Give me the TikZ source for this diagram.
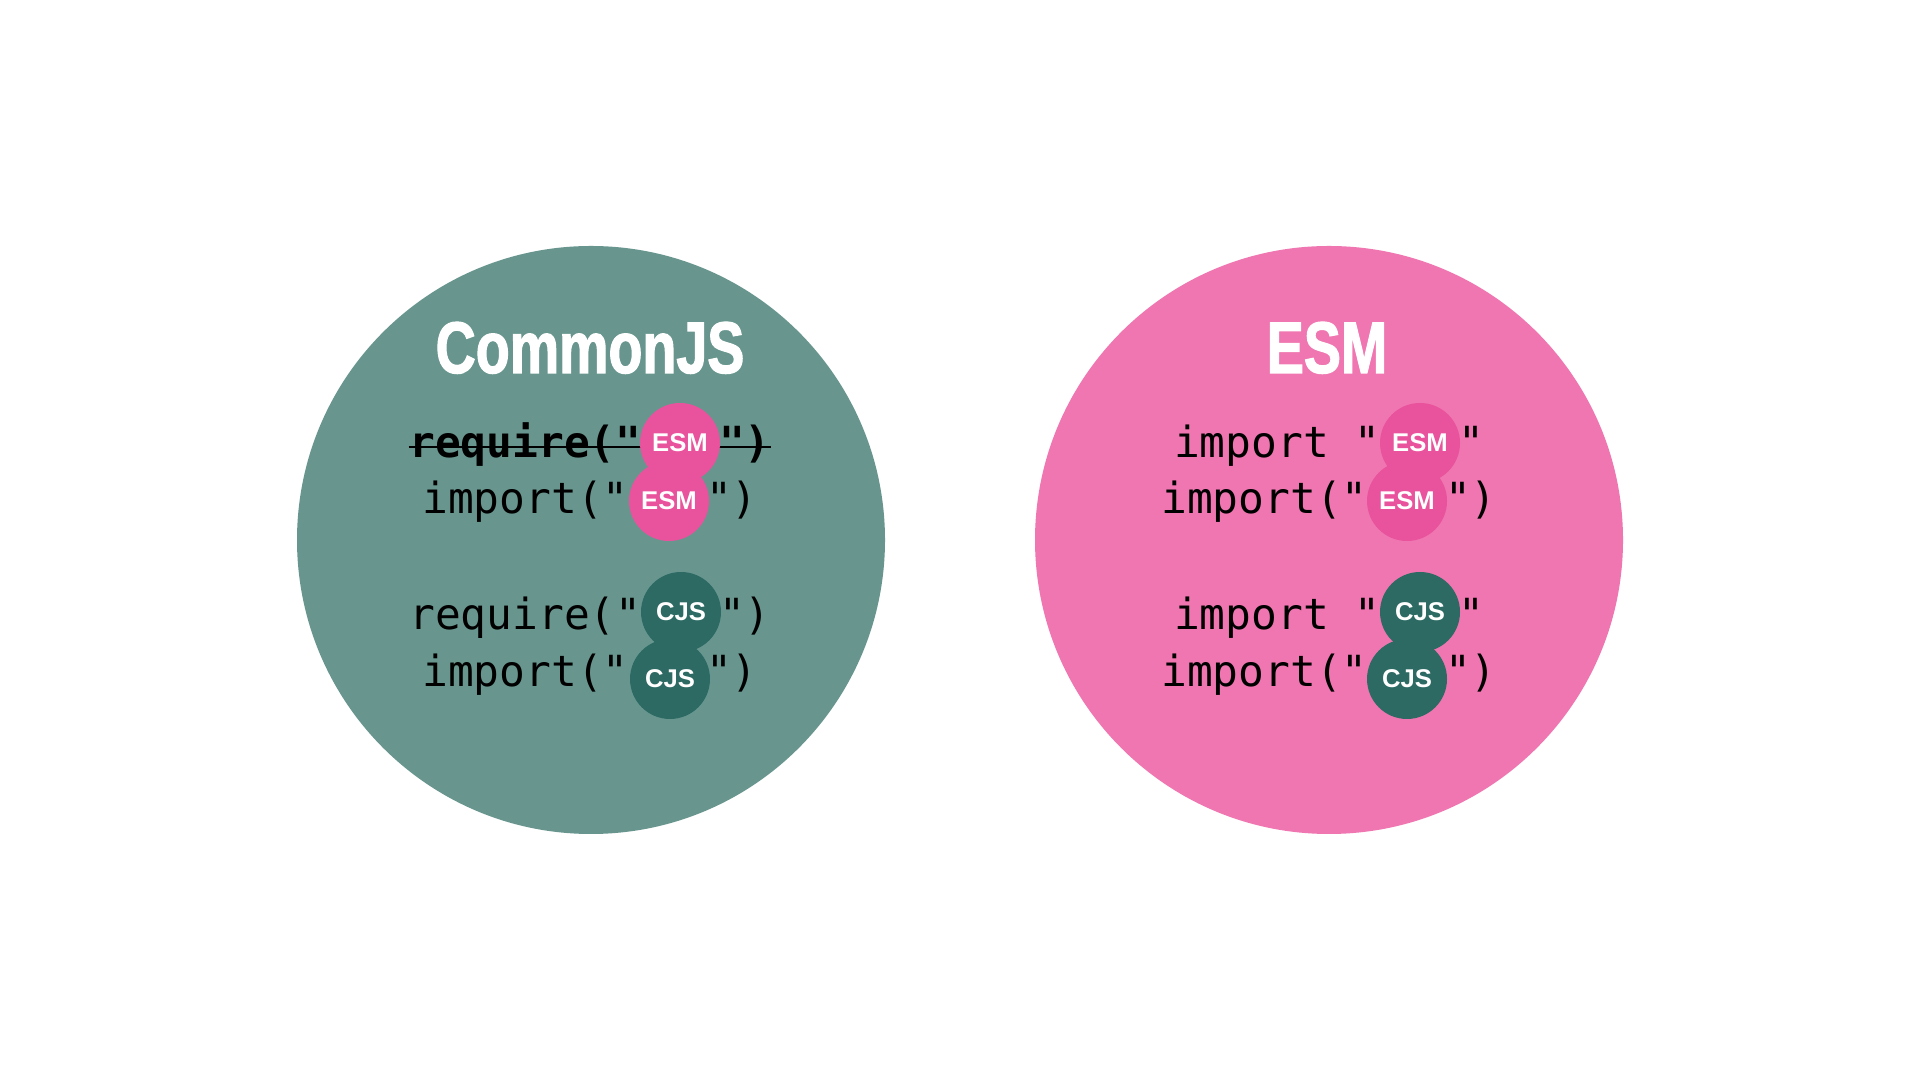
\documentclass[tikz,border=0pt]{standalone}
\usepackage{fontspec}
\setmainfont{Liberation Sans}
\newfontfamily\codefont{DejaVu Sans Mono}
\newfontfamily\titlefont[FakeStretch=0.76, FakeBold=1.6]{Liberation Sans Bold}
\usepackage{xcolor}
\usetikzlibrary{positioning}

\definecolor{cjsbg}{HTML}{68968F}
\definecolor{cjsdark}{HTML}{2D6A64}
\definecolor{esmbg}{HTML}{EF76B0}
\definecolor{esmdark}{HTML}{E9529C}

\begin{document}
\begin{tikzpicture}[
        node distance=7.38cm,
        disc/.style={circle, inner sep=0pt, minimum size=5.88cm},
        heading/.style={font=\titlefont\fontsize{20.8pt}{22pt}\selectfont, text=white, anchor=base, inner sep=0pt},
        code/.style={font=\codefont\fontsize{12.2pt}{14pt}\selectfont, anchor=base, inner sep=0pt},
        badge/.style={circle, inner sep=0pt, minimum size=0.8cm, text=white, font=\bfseries\fontsize{7.3pt}{8pt}\selectfont}
        ]
        \useasboundingbox[fill=white] (0,0) rectangle (19.2,10.8);

        % Discs
        \node[disc, fill=cjsbg] (cjs) at (5.91,5.40) {};
        \node[disc, fill=esmbg, right of=cjs] (esm) {};

        % Headings
        \node[heading] (cjstitle) at (5.90,7.07) {CommonJS};
        \node[heading] (esmtitle) at (13.27,7.07) {ESM};

        % CommonJS side
        \node[code] (cl1) at (5.90,6.22) {\bfseries require("\phantom{ESM}")};
        \node[code] (cl2) at (5.90,5.66) {import("\phantom{ESM}")};
        \node[code] (cl3) at (5.90,4.50) {require("\phantom{CJS}")};
        \node[code] (cl4) at (5.90,3.93) {import("\phantom{CJS}")};
        \draw[line width=0.027cm] ([yshift=0.11cm]cl1.base west) -- ([yshift=0.11cm]cl1.base east);

        \node[badge, fill=esmdark] (cb1) at (6.80,6.37) {ESM};
        \node[badge, fill=esmdark] (cb2) at (6.69,5.79) {ESM};
        \node[badge, fill=cjsdark] (cb3) at (6.81,4.68) {CJS};
        \node[badge, fill=cjsdark] (cb4) at (6.70,4.01) {CJS};

        % ESM side
        \node[code] (el1) at (13.29,6.22) {import "\phantom{ESM}"};
        \node[code] (el2) at (13.29,5.66) {import("\phantom{ESM}")};
        \node[code] (el3) at (13.29,4.50) {import "\phantom{CJS}"};
        \node[code] (el4) at (13.29,3.93) {import("\phantom{CJS}")};

        \node[badge, fill=esmdark] (eb1) at (14.20,6.37) {ESM};
        \node[badge, fill=esmdark] (eb2) at (14.07,5.79) {ESM};
        \node[badge, fill=cjsdark] (eb3) at (14.20,4.68) {CJS};
        \node[badge, fill=cjsdark] (eb4) at (14.07,4.01) {CJS};
    \end{tikzpicture}
\end{document}
